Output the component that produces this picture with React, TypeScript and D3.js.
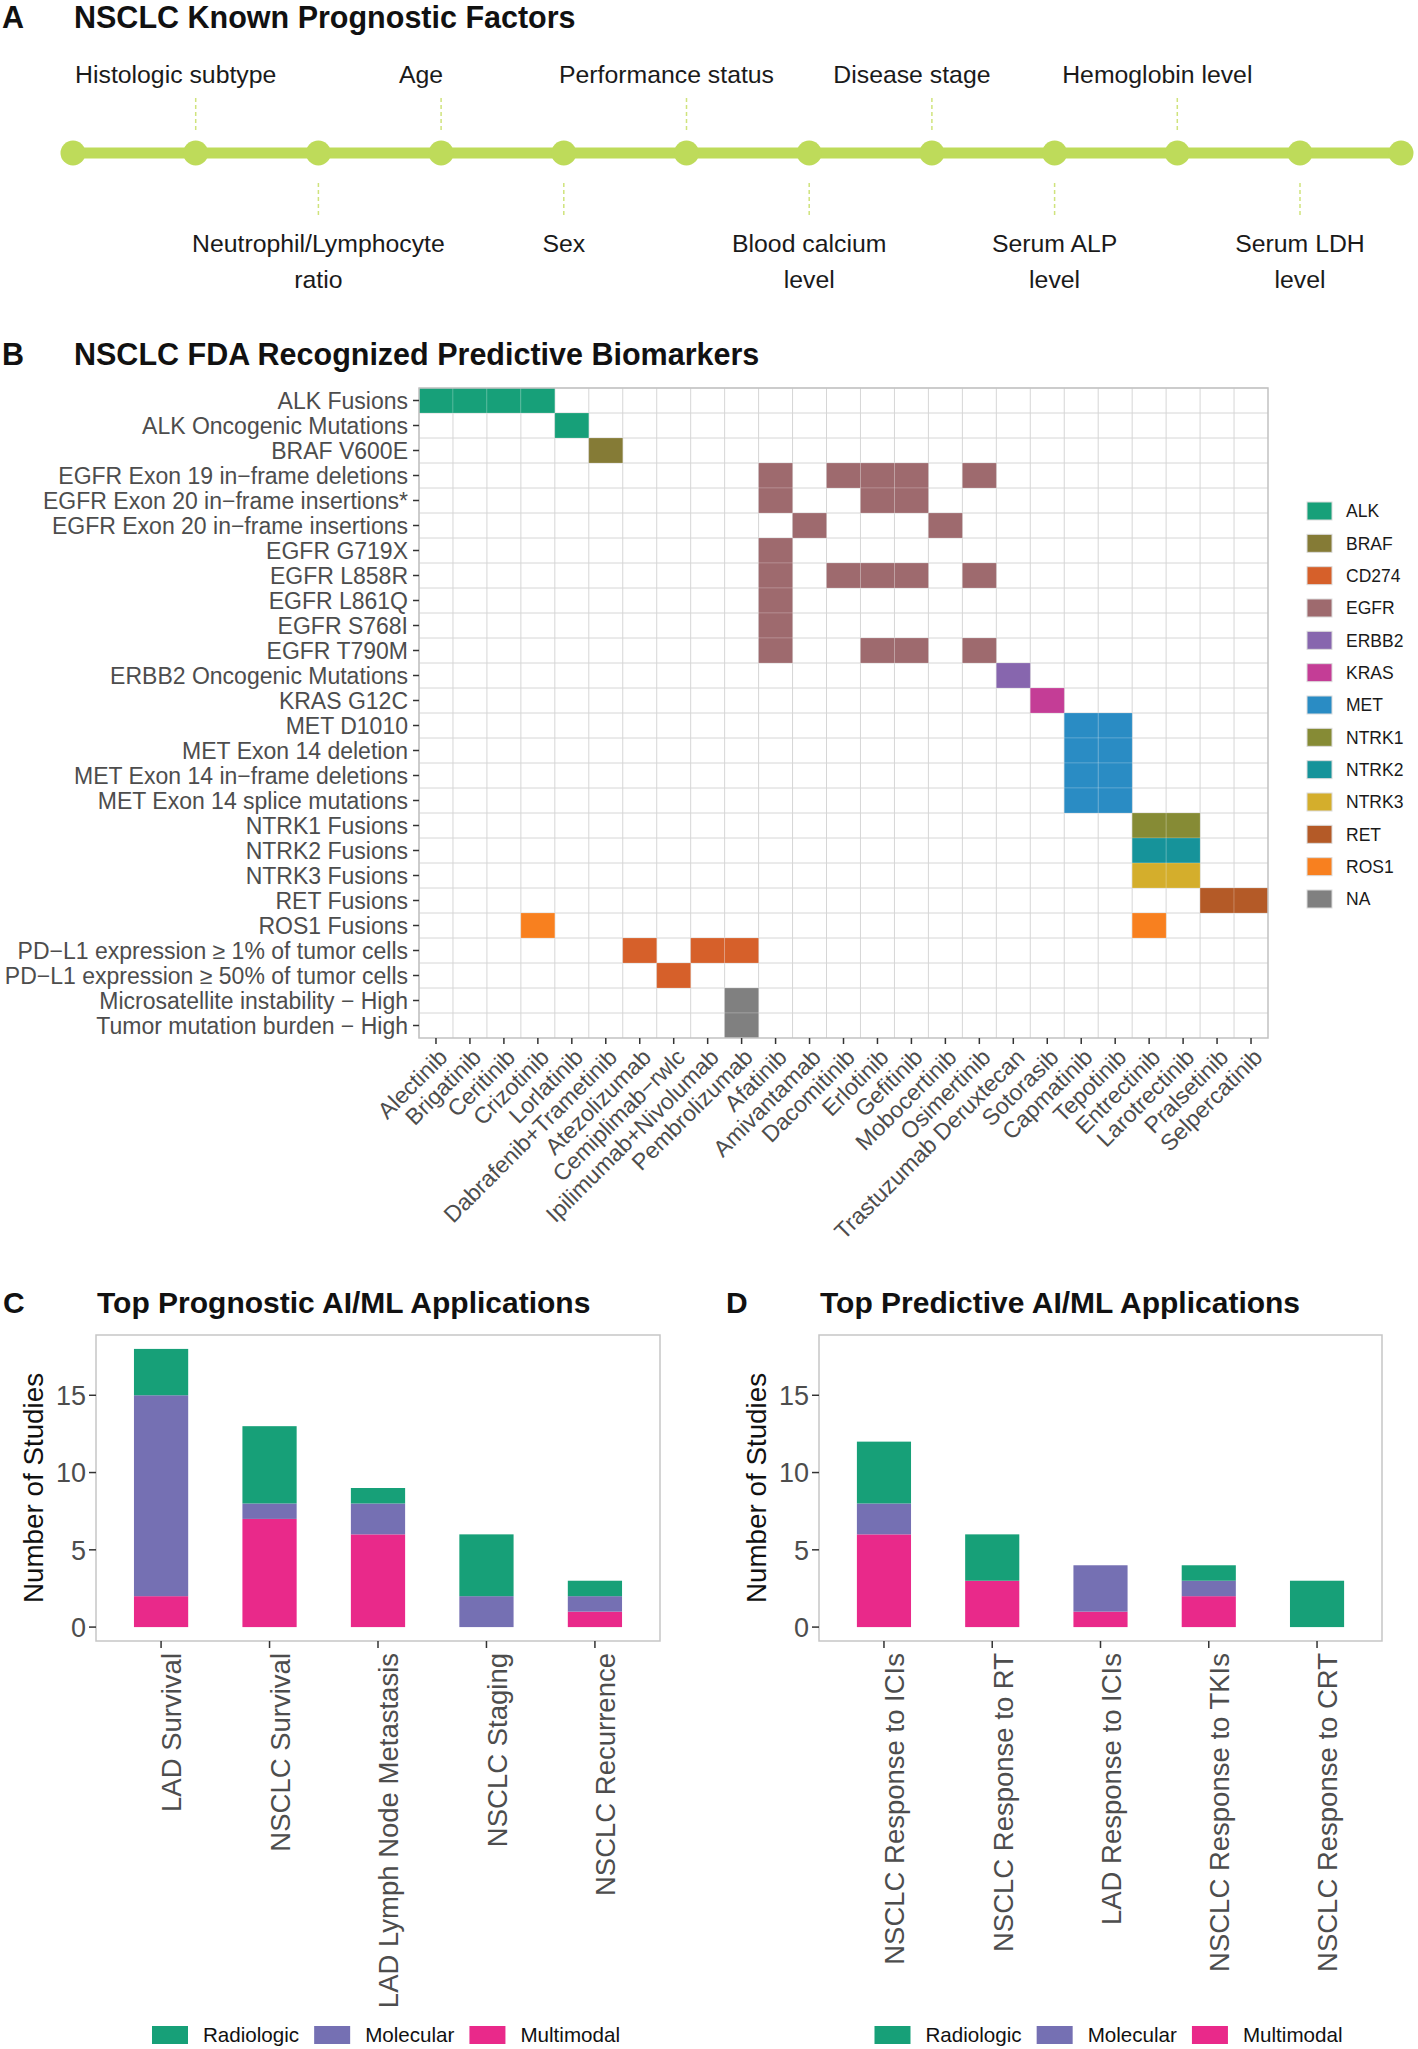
import React from 'react';
import * as d3 from 'd3';

// ---- Panel A: prognostic factors along the timeline ----
const prognosticFactors = [
  ['Histologic subtype'],
  ['Neutrophil/Lymphocyte', 'ratio'],
  ['Age'],
  ['Sex'],
  ['Performance status'],
  ['Blood calcium', 'level'],
  ['Disease stage'],
  ['Serum ALP', 'level'],
  ['Hemoglobin level'],
  ['Serum LDH', 'level'],
];

// ---- Panel B: FDA biomarkers x drugs ----
const biomarkers = [
  'ALK Fusions',
  'ALK Oncogenic Mutations',
  'BRAF V600E',
  'EGFR Exon 19 in−frame deletions',
  'EGFR Exon 20 in−frame insertions*',
  'EGFR Exon 20 in−frame insertions',
  'EGFR G719X',
  'EGFR L858R',
  'EGFR L861Q',
  'EGFR S768I',
  'EGFR T790M',
  'ERBB2 Oncogenic Mutations',
  'KRAS G12C',
  'MET D1010',
  'MET Exon 14 deletion',
  'MET Exon 14 in−frame deletions',
  'MET Exon 14 splice mutations',
  'NTRK1 Fusions',
  'NTRK2 Fusions',
  'NTRK3 Fusions',
  'RET Fusions',
  'ROS1 Fusions',
  'PD−L1 expression ≥ 1% of tumor cells',
  'PD−L1 expression ≥ 50% of tumor cells',
  'Microsatellite instability − High',
  'Tumor mutation burden − High',
];

const biomarkerGenes = [
  'ALK', 'ALK', 'BRAF', 'EGFR', 'EGFR', 'EGFR', 'EGFR', 'EGFR', 'EGFR', 'EGFR', 'EGFR',
  'ERBB2', 'KRAS', 'MET', 'MET', 'MET', 'MET', 'NTRK1', 'NTRK2', 'NTRK3', 'RET', 'ROS1',
  'CD274', 'CD274', 'NA', 'NA',
];

const drugs = [
  'Alectinib', 'Brigatinib', 'Ceritinib', 'Crizotinib', 'Lorlatinib', 'Dabrafenib+Trametinib',
  'Atezolizumab', 'Cemiplimab−rwlc', 'Ipilimumab+Nivolumab', 'Pembrolizumab', 'Afatinib',
  'Amivantamab', 'Dacomitinib', 'Erlotinib', 'Gefitinib', 'Mobocertinib', 'Osimertinib',
  'Trastuzumab Deruxtecan', 'Sotorasib', 'Capmatinib', 'Tepotinib', 'Entrectinib',
  'Larotrectinib', 'Pralsetinib', 'Selpercatinib',
];

const indications: [string, string[]][] = [
  ['ALK Fusions', ['Alectinib', 'Brigatinib', 'Ceritinib', 'Crizotinib']],
  ['ALK Oncogenic Mutations', ['Lorlatinib']],
  ['BRAF V600E', ['Dabrafenib+Trametinib']],
  ['EGFR Exon 19 in−frame deletions', ['Afatinib', 'Dacomitinib', 'Erlotinib', 'Gefitinib', 'Osimertinib']],
  ['EGFR Exon 20 in−frame insertions*', ['Afatinib', 'Erlotinib', 'Gefitinib']],
  ['EGFR Exon 20 in−frame insertions', ['Amivantamab', 'Mobocertinib']],
  ['EGFR G719X', ['Afatinib']],
  ['EGFR L858R', ['Afatinib', 'Dacomitinib', 'Erlotinib', 'Gefitinib', 'Osimertinib']],
  ['EGFR L861Q', ['Afatinib']],
  ['EGFR S768I', ['Afatinib']],
  ['EGFR T790M', ['Afatinib', 'Erlotinib', 'Gefitinib', 'Osimertinib']],
  ['ERBB2 Oncogenic Mutations', ['Trastuzumab Deruxtecan']],
  ['KRAS G12C', ['Sotorasib']],
  ['MET D1010', ['Capmatinib', 'Tepotinib']],
  ['MET Exon 14 deletion', ['Capmatinib', 'Tepotinib']],
  ['MET Exon 14 in−frame deletions', ['Capmatinib', 'Tepotinib']],
  ['MET Exon 14 splice mutations', ['Capmatinib', 'Tepotinib']],
  ['NTRK1 Fusions', ['Entrectinib', 'Larotrectinib']],
  ['NTRK2 Fusions', ['Entrectinib', 'Larotrectinib']],
  ['NTRK3 Fusions', ['Entrectinib', 'Larotrectinib']],
  ['RET Fusions', ['Pralsetinib', 'Selpercatinib']],
  ['ROS1 Fusions', ['Crizotinib', 'Entrectinib']],
  ['PD−L1 expression ≥ 1% of tumor cells', ['Atezolizumab', 'Ipilimumab+Nivolumab', 'Pembrolizumab']],
  ['PD−L1 expression ≥ 50% of tumor cells', ['Cemiplimab−rwlc']],
  ['Microsatellite instability − High', ['Pembrolizumab']],
  ['Tumor mutation burden − High', ['Pembrolizumab']],
];

const genes = ['ALK', 'BRAF', 'CD274', 'EGFR', 'ERBB2', 'KRAS', 'MET', 'NTRK1', 'NTRK2', 'NTRK3', 'RET', 'ROS1', 'NA'];
const geneColors = [
  '#17a079', '#857b36', '#d6602a', '#9e6a6e', '#8766ae', '#c43d96', '#2a8cc4',
  '#868b35', '#16939a', '#d4ae2c', '#b45a27', '#f8801f', '#808080',
];

// ---- Panels C and D: stacked bars ----
const modalities = ['Radiologic', 'Molecular', 'Multimodal'];
const modalityColors = ['#17a078', '#7570b3', '#e9298a'];

const prognosticApps = ['LAD Survival', 'NSCLC Survival', 'LAD Lymph Node Metastasis', 'NSCLC Staging', 'NSCLC Recurrence'];
const prognosticMultimodal = [2, 7, 6, 0, 1];
const prognosticMolecular = [13, 1, 2, 2, 1];
const prognosticRadiologic = [3, 5, 1, 4, 1];

const predictiveApps = ['NSCLC Response to ICIs', 'NSCLC Response to RT', 'LAD Response to ICIs', 'NSCLC Response to TKIs', 'NSCLC Response to CRT'];
const predictiveMultimodal = [6, 3, 1, 2, 0];
const predictiveMolecular = [2, 0, 3, 1, 0];
const predictiveRadiologic = [4, 3, 0, 1, 3];

const yTicks = [0, 5, 10, 15];

const FONT = '"Liberation Sans", Arial, Helvetica, sans-serif';
const GREY30 = '#4d4d4d';

let measureCtx: CanvasRenderingContext2D | null = null;
const textWidth = (s: string, size: number) => {
  if (!measureCtx) measureCtx = document.createElement('canvas').getContext('2d');
  if (!measureCtx) return s.length * size * 0.5;
  measureCtx.font = `${size}px ${FONT}`;
  return measureCtx.measureText(s).width;
};

const Title: React.FC<{ letter: string; text: string; x: number; tx: number; y: number; size: number }> = ({
  letter,
  text,
  x,
  tx,
  y,
  size,
}) => (
  <g fontFamily={FONT} fontWeight="bold" fontSize={size} fill="#111">
    <text x={x} y={y}>{letter}</text>
    <text x={tx} y={y}>{text}</text>
  </g>
);

const Timeline: React.FC = () => {
  const x = d3.scaleLinear().domain([0, prognosticFactors.length]).range([73, 1300]);
  const lineEnd = 1401;
  const cy = 153;
  const dots = d3.range(prognosticFactors.length + 1).map((i) => x(i));
  dots.push(lineEnd);
  const green = '#bedb5a';
  return (
    <g fontFamily={FONT}>
      <Title letter="A" text="NSCLC Known Prognostic Factors" x={2} tx={74} y={28} size={30.5} />
      <line x1={x(0)} x2={lineEnd} y1={cy} y2={cy} stroke={green} strokeWidth={11} />
      {dots.map((d, i) => (
        <circle key={i} cx={d} cy={cy} r={12.5} fill={green} />
      ))}
      {prognosticFactors.map((lines, i) => {
        const px = x(i + 1);
        const up = i % 2 === 0;
        return (
          <g key={i}>
            <line
              x1={px}
              x2={px}
              y1={up ? 98 : 183}
              y2={up ? 132 : 217}
              stroke="#cfe37c"
              strokeWidth={1.5}
              strokeDasharray="4,3"
            />
            {lines.map((l, j) => (
              <text
                key={j}
                x={up ? px - 20 : px}
                y={(up ? 83 : 252) + j * 36}
                textAnchor="middle"
                fontSize={24.8}
                fill="#1a1a1a"
              >
                {l}
              </text>
            ))}
          </g>
        );
      })}
    </g>
  );
};

const Heatmap: React.FC = () => {
  const x = d3.scaleBand<string>().domain(drugs).range([419, 1268]);
  const y = d3.scaleBand<string>().domain(biomarkers).range([388, 1038]);
  const color = d3.scaleOrdinal<string, string>().domain(genes).range(geneColors);
  const [x0, x1] = x.range();
  const [y0, y1] = y.range();
  const cells = indications.flatMap(([b, ds]) =>
    ds.map((dName) => ({ b, d: dName, gene: biomarkerGenes[biomarkers.indexOf(b)] }))
  );
  const legendY = d3.scalePoint<string>().domain(genes).range([511, 899]);
  return (
    <g fontFamily={FONT}>
      <Title letter="B" text="NSCLC FDA Recognized Predictive Biomarkers" x={2} tx={74} y={365} size={30.5} />
      <rect x={x0} y={y0} width={x1 - x0} height={y1 - y0} fill="#fff" />
      {drugs.map((d) => (
        <line key={d} x1={x(d)!} x2={x(d)!} y1={y0} y2={y1} stroke="#d6d6d6" strokeWidth={1} />
      ))}
      {biomarkers.map((b) => (
        <line key={b} x1={x0} x2={x1} y1={y(b)!} y2={y(b)!} stroke="#d6d6d6" strokeWidth={1} />
      ))}
      {cells.map((c, i) => (
        <rect
          key={i}
          x={x(c.d)!}
          y={y(c.b)!}
          width={x.bandwidth()}
          height={y.bandwidth()}
          fill={color(c.gene)}
          stroke="rgba(255,255,255,0.22)"
          strokeWidth={0.8}
        />
      ))}
      <rect x={x0} y={y0} width={x1 - x0} height={y1 - y0} fill="none" stroke="#c2c2c2" strokeWidth={1.5} />
      {biomarkers.map((b) => {
        const cy = y(b)! + y.bandwidth() / 2;
        return (
          <g key={b}>
            <line x1={x0 - 6} x2={x0} y1={cy} y2={cy} stroke="#333" strokeWidth={1.5} />
            <text x={x0 - 11} y={cy} dy="0.35em" textAnchor="end" fontSize={23} fill={GREY30}>
              {b}
            </text>
          </g>
        );
      })}
      {drugs.map((d) => {
        const cx = x(d)! + x.bandwidth() / 2;
        return (
          <g key={d}>
            <line x1={cx} x2={cx} y1={y1} y2={y1 + 6} stroke="#333" strokeWidth={1.5} />
            <text
              transform={`translate(${cx + 1},${y1 + 9}) rotate(-45)`}
              dy="0.72em"
              textAnchor="end"
              fontSize={23}
              fill={GREY30}
            >
              {d}
            </text>
          </g>
        );
      })}
      {genes.map((g) => (
        <g key={g}>
          <rect
            x={1307}
            y={legendY(g)! - 9}
            width={25}
            height={18}
            fill={color(g)}
            stroke="#dcdcdc"
            strokeWidth={1}
          />
          <text x={1346} y={legendY(g)!} dy="0.36em" fontSize={17.5} fill="#1a1a1a">
            {g}
          </text>
        </g>
      ))}
    </g>
  );
};

interface StackedProps {
  letter: string;
  title: string;
  apps: string[];
  radiologic: number[];
  molecular: number[];
  multimodal: number[];
  left: number;
  right: number;
}

const StackedBars: React.FC<StackedProps> = ({ letter, title, apps, radiologic, molecular, multimodal, left, right }) => {
  const top = 1335;
  const bottom = 1641;
  const rows = apps.map((a, i) => ({ app: a, Multimodal: multimodal[i], Molecular: molecular[i], Radiologic: radiologic[i] }));
  const stack = d3.stack<any>().keys(['Multimodal', 'Molecular', 'Radiologic'])(rows);
  const x = d3.scaleBand<string>().domain(apps).range([left, right]).paddingInner(0.5).paddingOuter(0.35);
  const y = d3.scaleLinear().domain([-0.9, 18.9]).range([bottom, top]);
  const color = d3.scaleOrdinal<string, string>().domain(modalities).range(modalityColors);

  const keyW = 36;
  const gap = 15;
  const legendFont = 20.6;
  const itemWidths = modalities.map((m) => keyW + gap + textWidth(m, legendFont));
  const legendWidth = d3.sum(itemWidths) + gap * (modalities.length - 1);
  let lx = (left + right) / 2 + 8 - legendWidth / 2;
  const legendItems = modalities.map((m, i) => {
    const item = { m, x: lx };
    lx += itemWidths[i] + gap;
    return item;
  });

  return (
    <g fontFamily={FONT}>
      <Title letter={letter} text={title} x={left - 93} tx={left + 1} y={1313} size={30} />
      <rect x={left} y={top} width={right - left} height={bottom - top} fill="#fff" stroke="#c6c6c6" strokeWidth={1.5} />
      {stack.map((layer) => (
        <g key={layer.key} fill={color(layer.key)}>
          {layer.map((seg, i) =>
            seg[1] > seg[0] ? (
              <rect
                key={i}
                x={x(apps[i])!}
                y={y(seg[1])}
                width={x.bandwidth()}
                height={y(seg[0]) - y(seg[1])}
              />
            ) : null
          )}
        </g>
      ))}
      {yTicks.map((t) => (
        <g key={t}>
          <line x1={left - 7} x2={left} y1={y(t)} y2={y(t)} stroke="#333" strokeWidth={1.5} />
          <text x={left - 10} y={y(t)} dy="0.36em" textAnchor="end" fontSize={27} fill={GREY30}>
            {t}
          </text>
        </g>
      ))}
      <text
        transform={`translate(${left - 63},${(top + bottom) / 2}) rotate(-90)`}
        dy="0.35em"
        textAnchor="middle"
        fontSize={27.8}
        fill="#111"
      >
        Number of Studies
      </text>
      {apps.map((a) => {
        const cx = x(a)! + x.bandwidth() / 2;
        return (
          <g key={a}>
            <line x1={cx} x2={cx} y1={bottom} y2={bottom + 7} stroke="#333" strokeWidth={1.5} />
            <text
              transform={`translate(${cx},${bottom + 12}) rotate(-90)`}
              dy="0.74em"
              textAnchor="end"
              fontSize={27.5}
              fill={GREY30}
            >
              {a}
            </text>
          </g>
        );
      })}
      {legendItems.map((it) => (
        <g key={it.m}>
          <rect x={it.x} y={2026} width={keyW} height={18} fill={color(it.m)} />
          <text x={it.x + keyW + gap} y={2035} dy="0.36em" fontSize={legendFont} fill="#111">
            {it.m}
          </text>
        </g>
      ))}
    </g>
  );
};

export default function App() {
  return (
    <div>
      <style>{`body{margin:0;background:#fff}`}</style>
      <svg width={1418} height={2049} viewBox="0 0 1418 2049" style={{ display: 'block', background: '#fff' }}>
        <Timeline />
        <Heatmap />
        <StackedBars
          letter="C"
          title="Top Prognostic AI/ML Applications"
          apps={prognosticApps}
          radiologic={prognosticRadiologic}
          molecular={prognosticMolecular}
          multimodal={prognosticMultimodal}
          left={96}
          right={660}
        />
        <StackedBars
          letter="D"
          title="Top Predictive AI/ML Applications"
          apps={predictiveApps}
          radiologic={predictiveRadiologic}
          molecular={predictiveMolecular}
          multimodal={predictiveMultimodal}
          left={819}
          right={1382}
        />
      </svg>
    </div>
  );
}
